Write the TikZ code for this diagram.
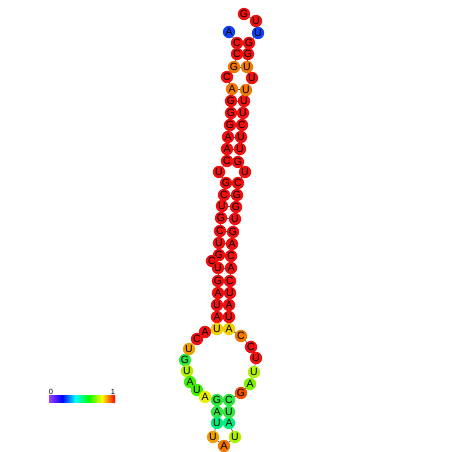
\documentclass[tikz,border=0pt]{standalone}
\usepackage{fontspec}
\setmainfont{Liberation Sans}
\usetikzlibrary{backgrounds}
\definecolor{cRed}{HTML}{F01010}
\definecolor{cOrange}{HTML}{F07800}
\definecolor{cOrRed}{HTML}{F05000}
\definecolor{cAmber}{HTML}{F0A000}
\definecolor{cYellow}{HTML}{F0D000}
\definecolor{cLemon}{HTML}{E8F000}
\definecolor{cYG}{HTML}{B0F000}
\definecolor{cLime}{HTML}{80F000}
\definecolor{cGreen}{HTML}{40F000}
\definecolor{cGreenB}{HTML}{30E840}
\definecolor{cTeal}{HTML}{00F080}
\definecolor{cBlue}{HTML}{1040F0}
\definecolor{cBone}{HTML}{404040}
\definecolor{cViolet}{HTML}{A040FF}
\tikzset{
  nt/.style={circle, inner sep=0pt, minimum size=12.4pt,
     font=\fontsize{10.5}{10.5}\selectfont, text=black},
  backbone/.style={draw=cBone, line width=0.6pt},
  bpair/.style={draw=cBone, line width=0.6pt},
  barpart/.style={rectangle, inner sep=0pt, minimum width=13.2pt,
     minimum height=7pt, outer sep=0pt},
  barlabel/.style={font=\fontsize{7.5}{7.5}\selectfont, inner sep=0.5pt},
}

\begin{document}
\begin{tikzpicture}[x=1pt, y=-1pt]
  \useasboundingbox (0,0) rectangle (452,452);
  % nucleotides, 5' to 3'
  \foreach \i/\x/\y/\b/\c in {
    1/229/32/A/cBlue, 2/237/43/C/cRed, 3/237/54/C/cRed, 4/234/67/G/cOrange,
    5/227/77/C/cRed, 6/232/89/A/cOrange, 7/231/101/G/cRed, 8/231/113/G/cRed,
    9/230/125/G/cRed, 10/228/137/A/cRed, 11/227/149/A/cRed, 12/227/161/C/cRed,
    13/219/172/U/cRed, 14/226/183/G/cRed, 15/224/195/C/cRed, 16/222/206/U/cRed,
    17/221/218/G/cRed, 18/220/231/C/cRed, 19/219/243/U/cRed, 20/219/255/G/cRed,
    21/212/261/C/cRed, 22/218/268/U/cRed, 23/218/281/G/cRed, 24/218/293/A/cRed,
    25/217/305/U/cRed, 26/217/317/A/cRed, 27/217/329/U/cYellow, 28/205/332/A/cRed,
    29/197/339/C/cRed, 30/189/349/U/cAmber, 31/185/360/G/cGreenB, 32/187/371/U/cYG,
    33/190/382/A/cGreen, 34/197/390/U/cGreen, 35/205/397/A/cLemon, 36/217/400/G/cGreenB,
    37/217/412/A/cGreenB, 38/217/423/U/cTeal, 39/213/437/U/cAmber, 40/224/446/A/cOrange,
    41/235/437/U/cYG, 42/229/423/A/cTeal, 43/229/412/U/cGreenB, 44/229/400/C/cGreenB,
    45/241/393/G/cOrRed, 46/250/384/A/cLime, 47/254/372/U/cYG, 48/256/358/U/cRed,
    49/251/347/C/cRed, 50/241/336/C/cOrange, 51/229/329/A/cYellow, 52/229/317/U/cRed,
    53/229/305/A/cRed, 54/230/293/U/cRed, 55/230/281/C/cRed, 56/231/268/A/cRed,
    57/231/256/C/cRed, 58/232/244/A/cRed, 59/233/232/G/cRed, 60/235/219/U/cRed,
    61/236/207/G/cRed, 62/237/195/G/cRed, 63/238/183/C/cRed, 64/245/172/U/cRed,
    65/238/162/G/cRed, 66/240/149/U/cRed, 67/241/137/U/cRed, 68/242/125/C/cRed,
    69/243/113/U/cRed, 70/244/101/U/cRed, 71/246/90/U/cOrange, 72/252/78/U/cRed,
    73/247/67/U/cOrange, 74/248/54/G/cRed, 75/249/43/G/cRed, 76/258/33/U/cBlue,
    77/256/21/U/cRed, 78/244/14/G/cRed}
    \node[nt, fill=\c] (n\i) at (\x,\y) {\b};
  \begin{pgfonlayer}{background}
    % backbone
    \foreach \i [count=\j from 2] in {1,...,77}
      \draw[backbone] (n\i.center) -- (n\j.center);
    % base pairs
    \foreach \a/\b in {2/75, 3/74, 4/73, 6/71, 7/70, 8/69, 9/68, 10/67, 11/66,
        12/65, 14/63, 15/62, 16/61, 17/60, 18/59, 19/58, 20/57, 22/56, 23/55,
        24/54, 25/53, 26/52, 27/51, 36/44, 37/43, 38/42}
      \draw[bpair] (n\a.center) -- (n\b.center);
  \end{pgfonlayer}
  % probability scale, five shaded pieces
  \foreach \k/\ca/\cb [count=\m] in {0/cViolet/blue, 1/blue/cyan, 2/cyan/green,
      3/green/yellow, 4/yellow/red}
    \node[barpart, left color=\ca, right color=\cb] (bar\m) at (49+6.6+13.2*\k,399) {};
  \node[barlabel, above] (lo) at ([xshift=2pt]bar1.north west) {0};
  \node[barlabel, above] (hi) at ([xshift=-2pt]bar5.north east) {1};
\end{tikzpicture}
\end{document}
